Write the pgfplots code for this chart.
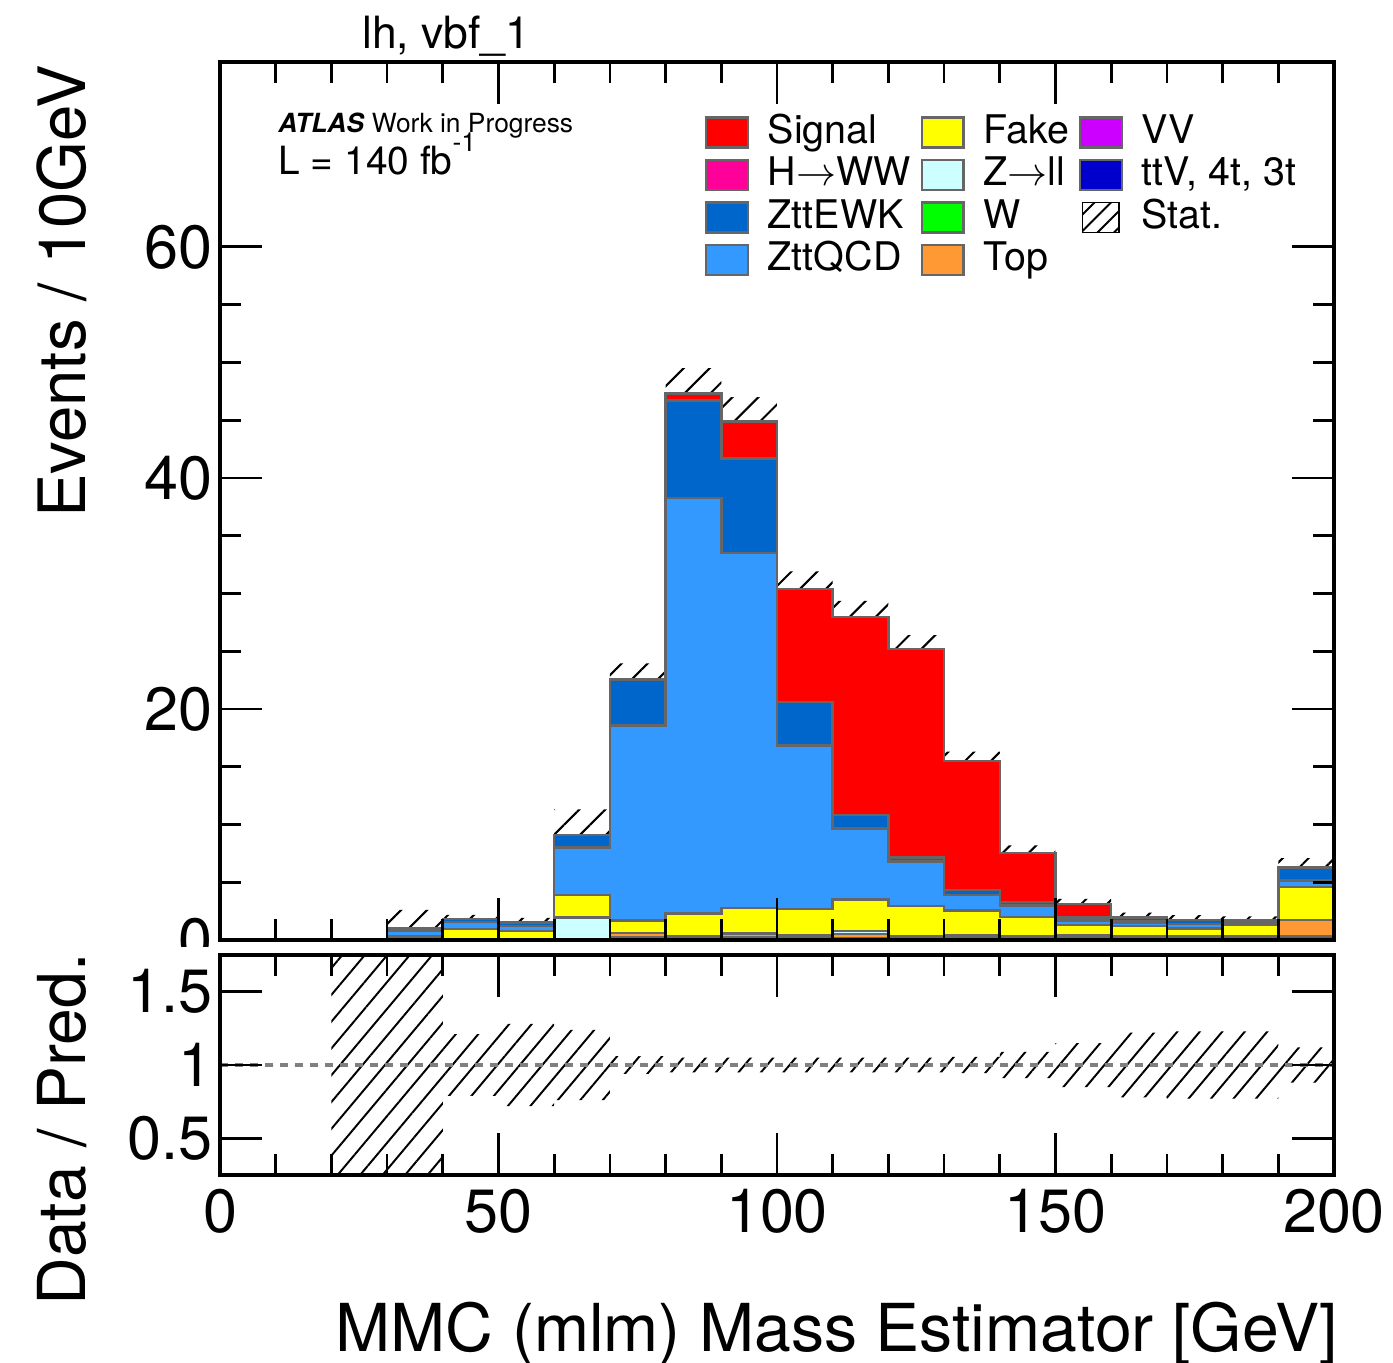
\documentclass[border=0pt]{standalone}
\usepackage{pgfplots}
\pgfplotsset{compat=1.18}
\usepackage{pgfplotstable}
\usepgfplotslibrary{fillbetween}
\usetikzlibrary{patterns.meta}
\usepackage{fontspec}
\setmainfont{TeX Gyre Heros}

\definecolor{cSig}{RGB}{255,0,0}
\definecolor{cHWW}{RGB}{255,0,153}
\definecolor{cEWK}{RGB}{0,102,204}
\definecolor{cQCD}{RGB}{51,153,255}
\definecolor{cFake}{RGB}{255,255,0}
\definecolor{cZll}{RGB}{204,255,255}
\definecolor{cW}{RGB}{0,255,0}
\definecolor{cTop}{RGB}{255,153,51}
\definecolor{cVV}{RGB}{204,0,255}
\definecolor{cttV}{RGB}{0,0,204}
\definecolor{cLine}{RGB}{102,102,102}
\definecolor{cDash}{RGB}{128,128,128}

% cumulative stack heights per bin (left bin edge x)
\pgfplotstableread{
x   sig   ewk   qcd   fake  zll   top   vv    up    lo
0   0     0     0     0     0     0     0     0     0
10  0     0     0     0     0     0     0     0     0
20  0     0     0     0     0     0     0     0     0
30  1.0   1.0   0.8   0.3   0.05  0.05  0     2.6   0
40  1.8   1.8   1.55  0.95  0.05  0.05  0     2.18  1.42
50  1.5   1.5   1.2   0.8   0.1   0.1   0     1.92  1.08
60  9.1   9.1   8.0   3.9   1.95  0     0     11.3  6.9
70  22.55 22.55 18.55 1.7   0.6   0.6   0.2   23.95 21.15
80  47.3  46.7  38.25 2.3   0.35  0.35  0.15  49.5  45.1
90  44.9  41.7  33.5  2.75  0.55  0.55  0.2   47.0  42.8
100 30.4  20.6  16.85 2.7   0.4   0.4   0.2   31.9  28.9
110 27.95 10.8  9.65  3.5   0.8   0.5   0.15  29.35 26.55
120 25.2  7.15  6.8   2.95  0.3   0.3   0.1   26.4  24.0
130 15.5  4.33  3.9   2.55  0.4   0.4   0.15  16.3  14.7
140 7.55  3.3   3.0   2.0   0.3   0.3   0.1   8.2   6.9
150 3.1   1.95  1.7   1.3   0.4   0.35  0.15  3.55  2.65
160 1.95  1.65  1.5   1.2   0.3   0.3   0.1   2.37  1.53
170 1.75  1.72  1.4   1.0   0.3   0.3   0.1   2.15  1.35
180 1.67  1.65  1.5   1.3   0.3   0.3   0.1   2.05  1.29
190 6.3   6.25  5.15  4.6   1.75  1.75  0.35  7.08  5.52
200 6.3   6.25  5.15  4.6   1.75  1.75  0.35  7.08  5.52
}\stack

% ratio panel: relative stat. uncertainty band
\pgfplotstableread{
x   up    lo
0   1     1
10  1     1
20  2     0
30  2     0
40  1.21  0.79
50  1.28  0.72
60  1.24  0.76
70  1.06  0.94
80  1.05  0.95
90  1.05  0.95
100 1.05  0.95
110 1.05  0.95
120 1.05  0.95
130 1.055 0.945
140 1.09  0.91
150 1.15  0.85
160 1.22  0.78
170 1.23  0.77
180 1.23  0.77
190 1.12  0.88
200 1.12  0.88
}\ratio

\pgfplotsset{
  rootaxis/.style={
    scale only axis, width=401.04pt,
    xmin=0, xmax=200,
    xtick={0,50,100,150,200}, minor x tick num=4,
    tick align=inside,
    major tick length=15pt, minor tick length=7.5pt,
    every tick/.style={black, line width=1pt},
    axis line style={line width=1.1pt},
    /pgf/number format/assume math mode=true,
    ticklabel style={font=\fontsize{22}{26}\selectfont},
    yticklabel style={inner sep=0pt, xshift=-2.5pt},
    xticklabel style={inner sep=0pt, yshift=-5pt},
    axis on top,
  },
  stk/.style={const plot, draw=cLine, line width=0.9pt, forget plot},
}

\begin{document}
\begin{tikzpicture}
\begin{axis}[rootaxis, name=main, at={(0,0)}, anchor=south west,
  height=316.08pt, ymin=0, ymax=76,
  ytick={0,20,40,60}, minor y tick num=3,
  xticklabels={},
  legend columns=3,
  legend cell align=left,
  legend image code/.code={\draw[#1, draw=cLine, line width=0.8pt] (0pt,-5.2pt) rectangle (15pt,5.6pt);},
  legend style={at={(rel axis cs:0.4354,0.9405)}, anchor=north west,
    draw=none, fill=none, inner sep=0pt, outer sep=0pt,
    font=\fontsize{14.2}{17}\selectfont,
    nodes={inner sep=0pt, text height=10.5pt, text depth=3pt},
    row sep=1.8pt,
    /tikz/every odd column/.append style={column sep=6.8pt},
    /tikz/every even column/.append style={column sep=3.6pt}},
]
\addplot[stk, fill=cSig]  table[x=x, y=sig]  {\stack} \closedcycle;
\addplot[stk, fill=cEWK]  table[x=x, y=ewk]  {\stack} \closedcycle;
\addplot[stk, fill=cQCD]  table[x=x, y=qcd]  {\stack} \closedcycle;
\addplot[stk, fill=cFake] table[x=x, y=fake] {\stack} \closedcycle;
\addplot[stk, fill=cZll]  table[x=x, y=zll]  {\stack} \closedcycle;
\addplot[stk, fill=cTop]  table[x=x, y=top]  {\stack} \closedcycle;
\addplot[stk, fill=cVV]   table[x=x, y=vv]   {\stack} \closedcycle;

\addplot[const plot, draw=none, name path=mup, forget plot] table[x=x, y=up] {\stack};
\addplot[const plot, draw=none, name path=mlo, forget plot] table[x=x, y=lo] {\stack};
\addplot[draw=none, pattern={Lines[angle=45, distance=6.6pt, line width=0.75pt]}, pattern color=black, forget plot]
  fill between[of=mup and mlo];

\addlegendimage{fill=cSig}\addlegendentry{Signal}
\addlegendimage{fill=cFake}\addlegendentry{Fake}
\addlegendimage{fill=cVV}\addlegendentry{VV}
\addlegendimage{fill=cHWW}\addlegendentry{H$\rightarrow$WW}
\addlegendimage{fill=cZll}\addlegendentry{Z$\rightarrow$ll}
\addlegendimage{fill=cttV}\addlegendentry{ttV, 4t, 3t}
\addlegendimage{fill=cEWK}\addlegendentry{ZttEWK}
\addlegendimage{fill=cW}\addlegendentry{W}
\addlegendimage{legend image code/.code={\fill[pattern={Lines[angle=45, distance=4.2pt, line width=0.7pt]}, pattern color=black] (1pt,-5.2pt) rectangle (14pt,5.6pt);}}\addlegendentry{Stat.}
\addlegendimage{fill=cQCD}\addlegendentry{ZttQCD}
\addlegendimage{fill=cTop}\addlegendentry{Top}

\node[anchor=base west, inner sep=0pt, font=\fontsize{9.5}{11}\selectfont] at (rel axis cs:0.052,0.920)
  {\textbf{\textit{ATLAS}} Work in Progress};
\node[anchor=base west, inner sep=0pt, font=\fontsize{14}{16}\selectfont] at (rel axis cs:0.052,0.872)
  {L = 140 fb\raisebox{0.6em}{\fontsize{9.5}{10}\selectfont -1}};
\end{axis}

% lower pad covers the bottom half of the "0" label
\fill[white] (-79.2pt,-2.5pt) rectangle (-0.8pt,-60pt);

\begin{axis}[rootaxis, name=ratio, at={(0,-5.4pt)}, anchor=north west,
  height=79.2pt, ymin=0.25, ymax=1.75,
  ytick={0.5,1,1.5}, minor y tick num=0,
  xticklabels={0,50,100,150,200},
]
\addplot[const plot, draw=none, name path=rup] table[x=x, y=up] {\ratio};
\addplot[const plot, draw=none, name path=rlo] table[x=x, y=lo] {\ratio};
\addplot[draw=none, pattern={Lines[angle=50, distance=6.2pt, line width=0.7pt]}, pattern color=black]
  fill between[of=rup and rlo];
\addplot[cDash, line width=1.2pt, dash pattern=on 2.9pt off 2.5pt] coordinates {(0,1) (200,1)};
\end{axis}

\node[rotate=90, anchor=base east, inner sep=0pt, font=\fontsize{23.5}{28}\selectfont] at ([xshift=-48.5pt,yshift=-1pt]main.north west) {Events / 10GeV};
\node[rotate=90, anchor=base east, inner sep=0pt, font=\fontsize{23.8}{28}\selectfont] at ([xshift=-48.5pt,yshift=0.7pt]ratio.north west) {Data / Pred.};
\node[anchor=base east, inner sep=0pt, font=\fontsize{23.8}{28}\selectfont] at ([xshift=1.5pt,yshift=-63.7pt]ratio.south east) {MMC (mlm) Mass Estimator [GeV]};
\node[anchor=base west, inner sep=0pt, font=\fontsize{16}{19}\selectfont] at ([xshift=51pt,yshift=5pt]main.north west) {lh, vbf\_1};

\pgfresetboundingbox
\path[use as bounding box] (-79.2pt,-152.28pt) rectangle (422.28pt,338.4pt);
\end{tikzpicture}
\end{document}
